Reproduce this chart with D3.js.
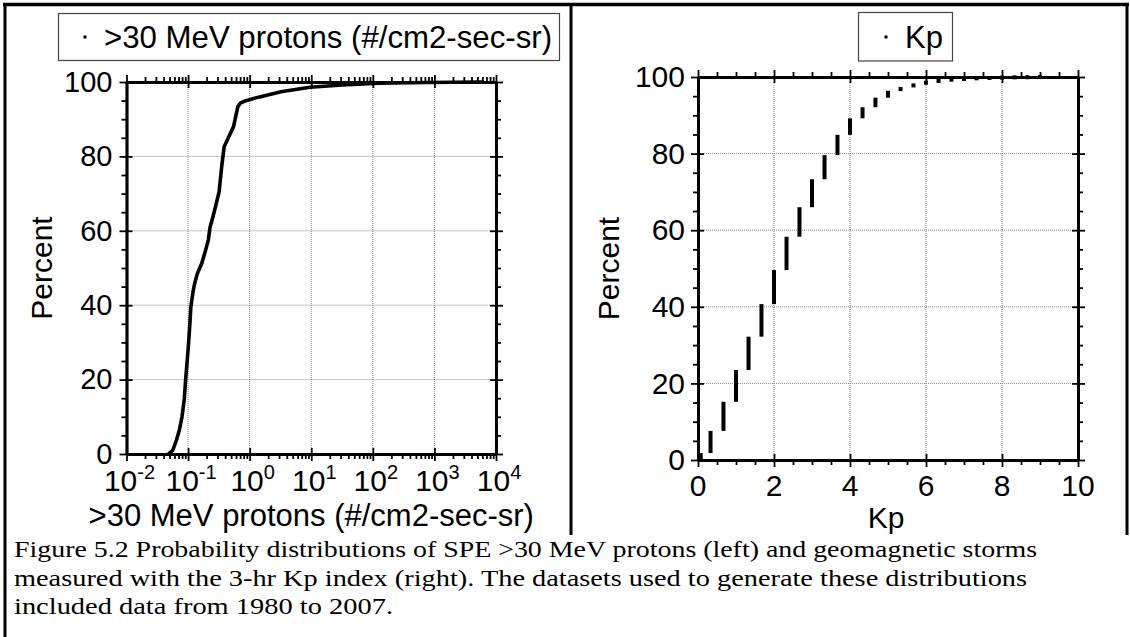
<!DOCTYPE html>
<html><head><meta charset="utf-8">
<script src="https://cdn.jsdelivr.net/npm/d3@7"></script>
<style>
html,body{margin:0;padding:0;background:#fff;}
svg{display:block;}
text{fill:#000;}
.sans{font-family:"Liberation Sans",Arial,sans-serif;}
</style></head>
<body>
<svg id="chart" width="1130" height="637" class="sans"></svg>
<script>
// ---------- Data ----------
// Left panel: cumulative distribution of >30 MeV proton flux
const protonFlux = [0.0479,0.0562,0.065,0.0724,0.0796,0.0871,0.0912,0.1,0.106,0.111,0.120,0.128,0.142,0.167,0.191,0.213,0.228,0.251,0.279,0.319,0.351,0.385,0.458,0.547,0.643,0.708,0.841,1.45,3.23,9.5,32,123,708,6166];
const protonPercent = [0,1.0,3.8,6.5,10.0,15.0,19.9,28.0,34.0,39.6,43.5,45.9,48.6,51.3,54.6,57.5,61.1,63.5,66.5,70.5,77.2,82.6,85.3,88.0,93.4,94.3,94.9,96.0,97.4,98.6,99.2,99.65,99.85,100];
// Right panel: cumulative distribution of Kp (clusters of points at each Kp level)
const kpValues = [0.07,0.33,0.67,1,1.33,1.67,2,2.33,2.67,3,3.33,3.67,4,4.33,4.67,5,5.33,5.67,6,6.33,6.67,7,7.33,7.67,8,8.33,8.67,9];
const kpCumPercent = [1.8,7.6,15.2,23.5,32.2,40.7,49.6,58.3,66.0,73.3,79.6,84.9,89.2,92.1,94.6,96.4,97.3,98.3,98.7,99.2,99.4,99.6,99.7,99.8,99.9,99.93,99.96,100];
// Tick labels
const fluxTickExponents = [-2,-1,0,1,2,3,4];
const percentTicks = [0,20,40,60,80,100];
const kpTicks = [0,2,4,6,8,10];
// Texts
const leftLegend = ">30 MeV protons (#/cm2-sec-sr)";
const rightLegend = "Kp";
const leftXTitle = ">30 MeV protons (#/cm2-sec-sr)";
const rightXTitle = "Kp";
const yTitle = "Percent";
const captionLines = [
  "Figure 5.2 Probability distributions of SPE >30 MeV protons (left) and geomagnetic storms",
  "measured with the 3-hr Kp index (right).  The datasets used to generate these distributions",
  "included data from 1980 to 2007."
];

// ---------- Layout ----------
const svg = d3.select("#chart");
const L = {x0:126.5, x1:496, y0:454, y1:82};
const R = {x0:698, x1:1078, y0:460, y1:77};

// frame
const frame = svg.append("g").attr("stroke","#000");
frame.append("line").attr("x1",3).attr("x2",1129).attr("y1",4.5).attr("y2",4.5).attr("stroke-width",3.5);
frame.append("line").attr("x1",5).attr("x2",5).attr("y1",3).attr("y2",637).attr("stroke-width",3);
frame.append("line").attr("x1",1127).attr("x2",1127).attr("y1",3).attr("y2",535).attr("stroke-width",3);
frame.append("line").attr("x1",571).attr("x2",571).attr("y1",3).attr("y2",535).attr("stroke-width",3);

// ---------- Scales ----------
const xL = d3.scaleLog().domain([1e-2,1e4]).range([L.x0,L.x1]);
const yL = d3.scaleLinear().domain([0,100]).range([L.y0,L.y1]);
const xR = d3.scaleLinear().domain([0,10]).range([R.x0,R.x1]);
const yR = d3.scaleLinear().domain([0,100]).range([R.y0,R.y1]);

const decades = fluxTickExponents.map(e=>Math.pow(10,e));
const logMinor = [];
for (let e=-2;e<4;e++) for (let m=2;m<=9;m++) logMinor.push(m*Math.pow(10,e));
const pctMinor = d3.range(5,100,5).filter(v=>v%20!==0);
const kpMinor = d3.range(0.5,10,0.5).filter(v=>v%2!==0);

function styleAxis(g, w){
  g.selectAll(".domain").attr("stroke","#000").attr("stroke-width",w||2.5);
  g.selectAll(".tick line").attr("stroke","#000").attr("stroke-width",1.8);
}

function drawPanel(P, x, y, xMajor, xMinor, gridX, opts){
  // grid
  const grid = svg.append("g").attr("stroke","#8a8a8a").attr("stroke-width",1).attr("stroke-dasharray","1,1");
  grid.selectAll("line.gx").data(gridX).join("line")
    .attr("x1",d=>x(d)).attr("x2",d=>x(d)).attr("y1",P.y0).attr("y2",P.y1);
  grid.selectAll("line.gy").data(percentTicks.filter(d=>d>0&&d<100)).join("line")
    .attr("x1",P.x0).attr("x2",P.x1).attr("y1",d=>y(d)).attr("y2",d=>y(d));

  const add = (tr, axis) => { const g = svg.append("g").attr("transform",tr).call(axis); styleAxis(g); return g; };
  const bt = `translate(0,${P.y0})`, tt = `translate(0,${P.y1})`, lt = `translate(${P.x0},0)`, rt = `translate(${P.x1},0)`;
  // bottom
  add(bt, d3.axisBottom(x).tickValues(xMajor).tickSizeInner(7).tickSizeOuter(0).tickFormat(""));
  add(bt, d3.axisBottom(x).tickValues(xMajor).tickSizeInner(-6).tickSizeOuter(0).tickFormat(""));
  add(bt, d3.axisBottom(x).tickValues(xMinor).tickSizeInner(5).tickSizeOuter(0).tickFormat(""));
  // top
  add(tt, d3.axisTop(x).tickValues(xMajor).tickSizeInner(7).tickSizeOuter(0).tickFormat(""));
  add(tt, d3.axisTop(x).tickValues(xMajor).tickSizeInner(-6).tickSizeOuter(0).tickFormat(""));
  add(tt, d3.axisTop(x).tickValues(xMinor).tickSizeInner(5).tickSizeOuter(0).tickFormat(""));
  // left
  const gl = add(lt, d3.axisLeft(y).tickValues(percentTicks).tickSizeInner(7).tickSizeOuter(0).tickPadding(opts.yPad));
  gl.selectAll(".tick text").attr("font-size",opts.yFont).attr("font-family",null).attr("fill","#000");
  add(lt, d3.axisLeft(y).tickValues(percentTicks).tickSizeInner(-6).tickSizeOuter(0).tickFormat(""));
  add(lt, d3.axisLeft(y).tickValues(pctMinor).tickSizeInner(5).tickSizeOuter(0).tickFormat(""));
  // right
  add(rt, d3.axisRight(y).tickValues(percentTicks).tickSizeInner(7).tickSizeOuter(0).tickFormat(""));
  add(rt, d3.axisRight(y).tickValues(percentTicks).tickSizeInner(-6).tickSizeOuter(0).tickFormat(""));
  add(rt, d3.axisRight(y).tickValues(pctMinor).tickSizeInner(5).tickSizeOuter(0).tickFormat(""));
}

drawPanel(L, xL, yL, decades, logMinor, decades.slice(1,-1), {yFont:29, yPad:7});
drawPanel(R, xR, yR, kpTicks, kpMinor, kpTicks.slice(1,-1), {yFont:30, yPad:6});

// Left x tick labels with superscripts
const xlab = svg.append("g").attr("font-size",30).attr("text-anchor","middle");
xlab.selectAll("text").data(fluxTickExponents).join("text")
  .attr("x",d=>xL(Math.pow(10,d))+3).attr("y",491)
  .each(function(d){
    const t = d3.select(this);
    t.append("tspan").text("10");
    t.append("tspan").attr("font-size",20).attr("dy",-12).text(String(d));
  });

// Right x tick labels
svg.append("g").attr("font-size",30).attr("text-anchor","middle")
  .selectAll("text").data(kpTicks).join("text")
  .attr("x",d=>xR(d)).attr("y",496).text(d=>d);

// Left curve
const line = d3.line().x((d,i)=>xL(protonFlux[i])).y(d=>yL(d));
svg.append("path").datum(protonPercent).attr("d",line)
  .attr("fill","none").attr("stroke","#000").attr("stroke-width",3.6)
  .attr("stroke-linejoin","round").attr("stroke-linecap","round");

// Right bars
svg.append("g").selectAll("rect").data(kpValues).join("rect")
  .attr("x",d=>xR(d)-2)
  .attr("y",(d,i)=>{
    const top = yR(kpCumPercent[i]);
    const bot = yR(i===0?0:kpCumPercent[i-1]);
    return (bot-top)<4 ? (top+bot)/2-2 : top;
  })
  .attr("width",4)
  .attr("height",(d,i)=>Math.max(4, yR(i===0?0:kpCumPercent[i-1]) - yR(kpCumPercent[i])))
  .attr("fill","#000");

// Legends
svg.append("rect").attr("x",58.5).attr("y",13.5).attr("width",501).attr("height",47)
  .attr("fill","none").attr("stroke","#444").attr("stroke-width",1.2);
svg.append("rect").attr("x",83.5).attr("y",35.5).attr("width",3).attr("height",3).attr("fill","#000");
svg.append("text").attr("x",104).attr("y",48).attr("font-size",31.2).text(leftLegend);

svg.append("rect").attr("x",858.5).attr("y",12.5).attr("width",94).attr("height",48.5)
  .attr("fill","none").attr("stroke","#444").attr("stroke-width",1.2);
svg.append("rect").attr("x",884.5).attr("y",35.5).attr("width",3).attr("height",3).attr("fill","#000");
svg.append("text").attr("x",905).attr("y",48).attr("font-size",31).text(rightLegend);

// Axis titles
svg.append("text").attr("x",(L.x0+L.x1)/2).attr("y",526).attr("font-size",31)
  .attr("text-anchor","middle").text(leftXTitle);
svg.append("text").attr("x",(R.x0+R.x1)/2-2).attr("y",528).attr("font-size",30)
  .attr("text-anchor","middle").text(rightXTitle);
svg.append("text").attr("transform",`translate(52,${(L.y0+L.y1)/2}) rotate(-90)`)
  .attr("font-size",30).attr("text-anchor","middle").text(yTitle);
svg.append("text").attr("transform",`translate(619,${(R.y0+R.y1)/2}) rotate(-90)`)
  .attr("font-size",30).attr("text-anchor","middle").text(yTitle);

// Caption
const capWidths = [1023, 1013, 379];
const capY = [556.5, 585.5, 614];
svg.append("g").selectAll("text").data(captionLines).join("text")
  .attr("x",14).attr("y",(d,i)=>capY[i])
  .style("font-family","'Liberation Serif', serif")
  .style("font-size","24px")
  .attr("textLength",(d,i)=>capWidths[i])
  .attr("lengthAdjust","spacingAndGlyphs")
  .text(d=>d);
</script>
</body></html>
